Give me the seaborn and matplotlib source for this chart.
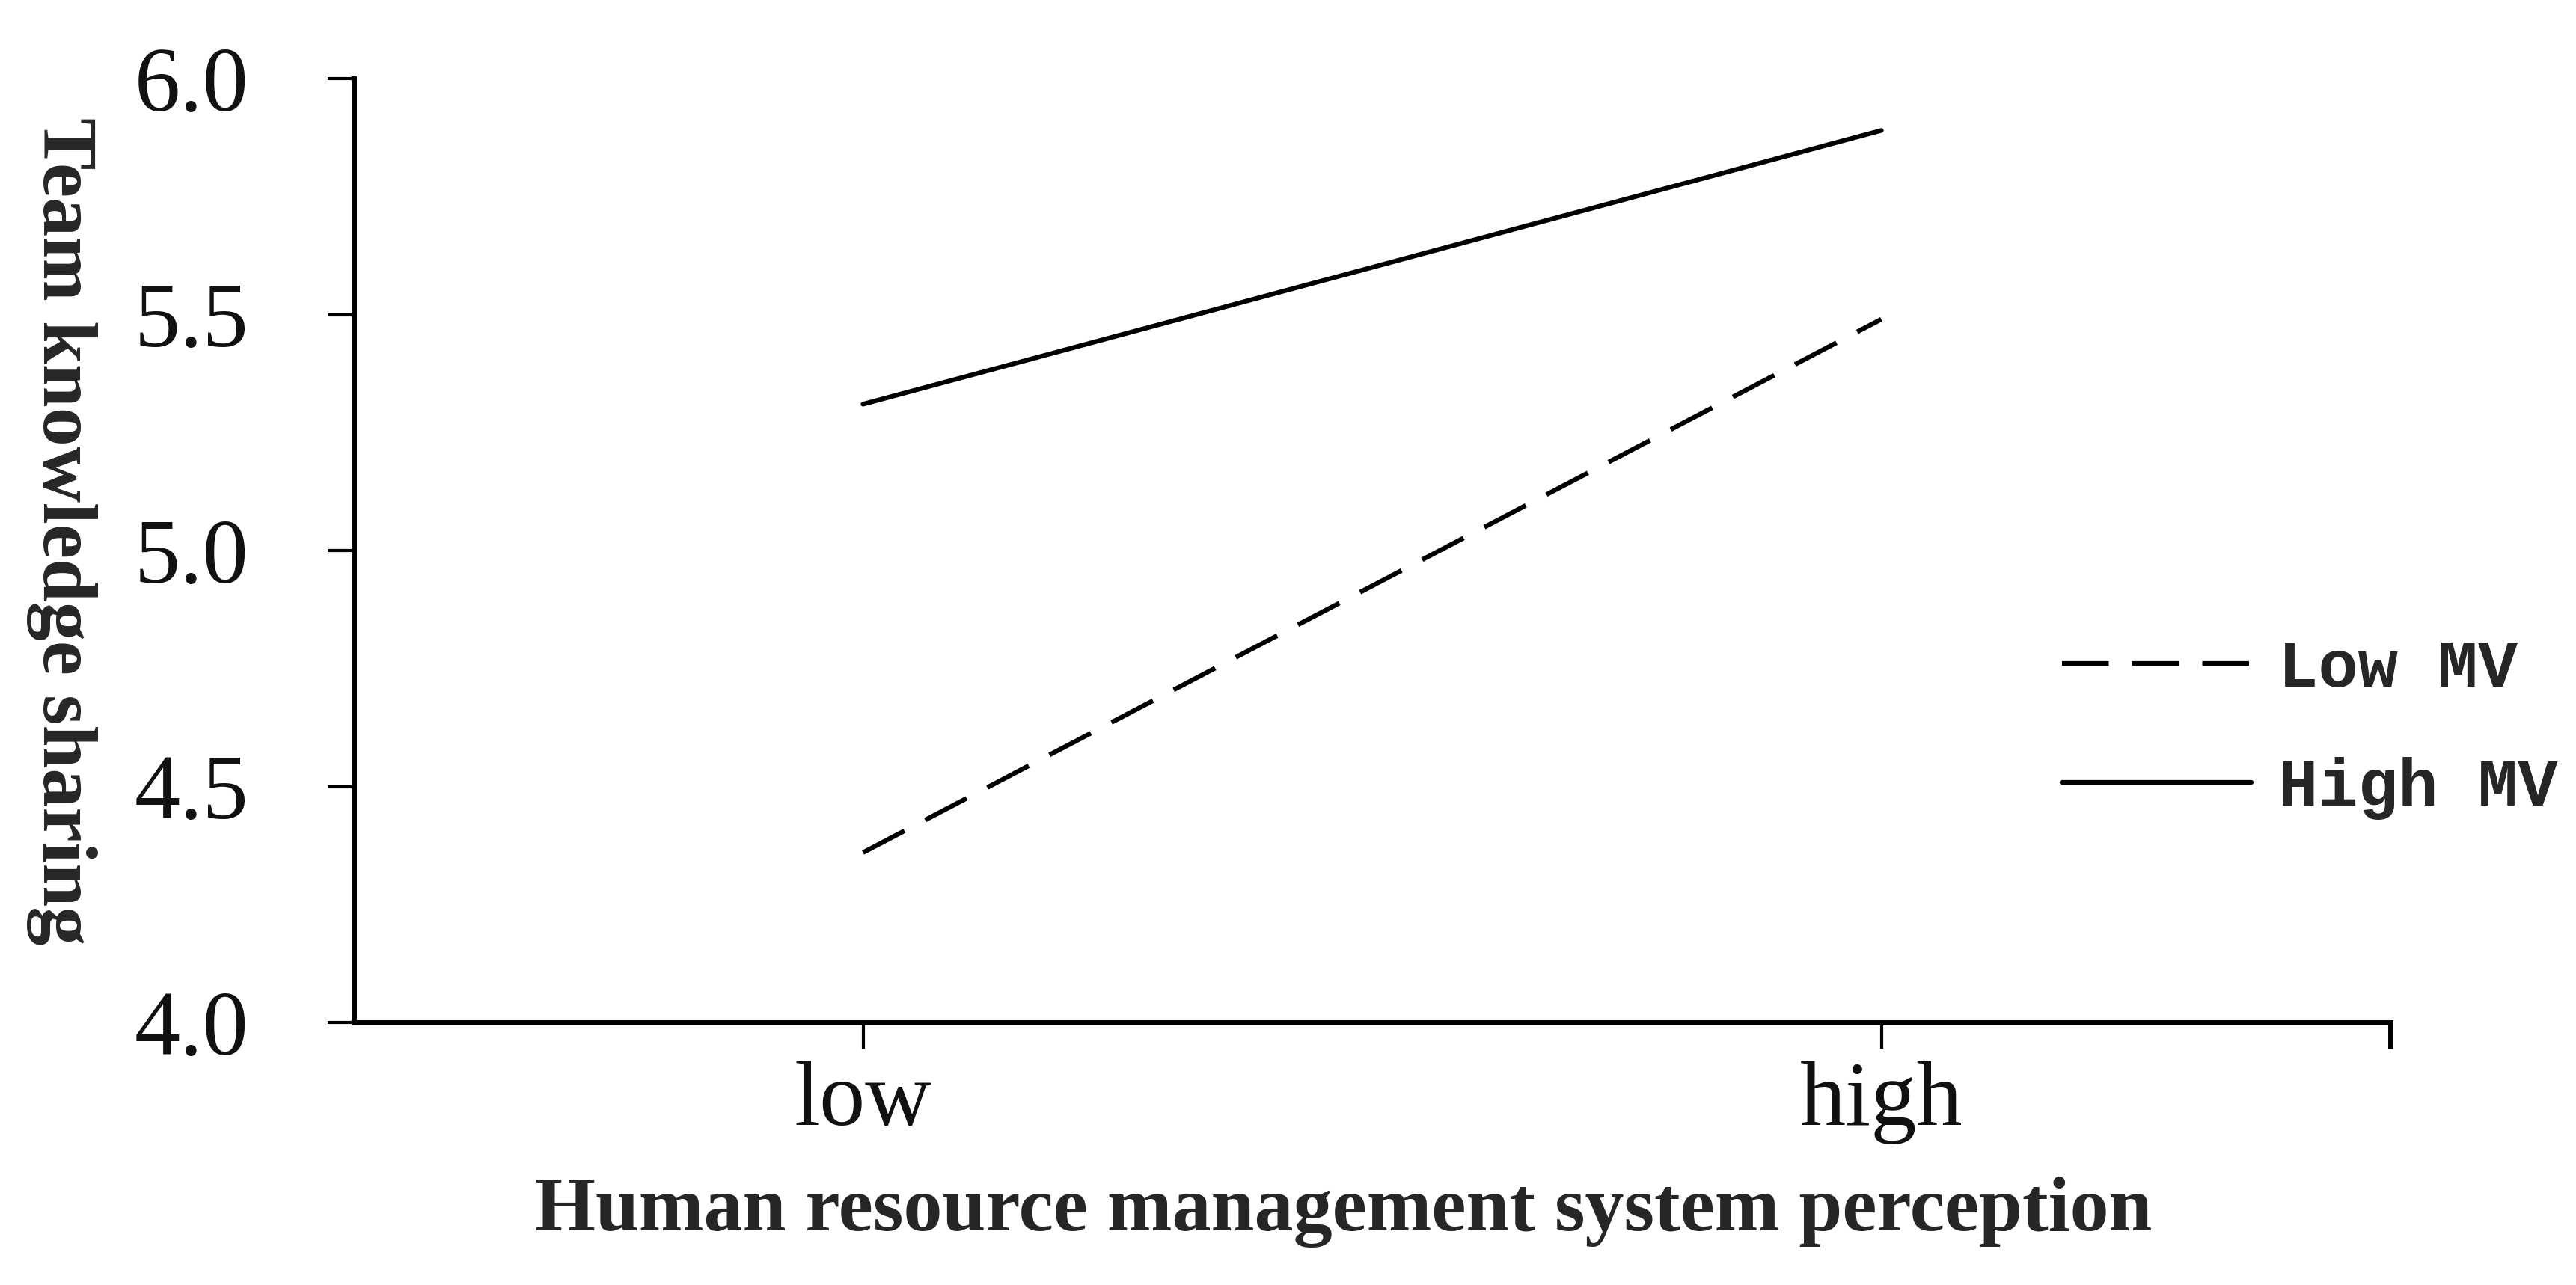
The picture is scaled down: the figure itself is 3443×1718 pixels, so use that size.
import numpy as np
import pandas as pd
import matplotlib
matplotlib.use("Agg")
import matplotlib.pyplot as plt
from matplotlib.ticker import FormatStrFormatter
from matplotlib.font_manager import FontProperties
import seaborn as sns

# ---- data ----
hrm_levels = ["low", "high"]
series_labels = ["Low MV", "High MV"]
low_mv = [4.36, 5.49]
high_mv = [5.31, 5.89]
y_ticks = [4.0, 4.5, 5.0, 5.5, 6.0]
x_label = "Human resource management system perception"
y_label = "Team knowledge sharing"

positions = np.arange(len(hrm_levels))
df = pd.concat([
    pd.DataFrame({"pos": positions, "score": low_mv, "group": series_labels[0]}),
    pd.DataFrame({"pos": positions, "score": high_mv, "group": series_labels[1]}),
], ignore_index=True)

sns.set_style("ticks")
plt.rcParams["font.family"] = ["Liberation Serif", "DejaVu Serif"]

W, H = 3443, 1718
fig = plt.figure(figsize=(W / 100, H / 100), dpi=100)
ax_left, ax_right, ax_top, ax_bot = 473, 3195, 105, 1367
ax = fig.add_axes([ax_left / W, 1 - ax_bot / H, (ax_right - ax_left) / W, (ax_bot - ax_top) / H])

sns.lineplot(data=df, x="pos", y="score", hue="group", style="group",
             hue_order=series_labels, style_order=series_labels,
             palette={series_labels[0]: "black", series_labels[1]: "black"},
             dashes={series_labels[0]: (10, 5), series_labels[1]: ""},
             linewidth=4.5, ax=ax, legend=True)

ax.set_xlim(-0.5, 1.5)
ax.set_ylim(4.0, 6.0)
ax.set_xticks(positions)
ax.set_xticklabels(hrm_levels)
ax.set_xticks([1.5], minor=True)
ax.set_yticks(y_ticks)
ax.yaxis.set_major_formatter(FormatStrFormatter("%.1f"))

for s in ["top", "right"]:
    ax.spines[s].set_visible(False)
for s in ["left", "bottom"]:
    ax.spines[s].set_linewidth(5)
    ax.spines[s].set_color("black")

ax.tick_params(axis="y", which="major", direction="out", length=25, width=3,
               color="black", labelsize=88, pad=76, labelcolor="#111111")
ax.tick_params(axis="x", which="major", direction="out", length=25, width=3,
               color="black", labelsize=88, pad=12, labelcolor="#111111")
ax.tick_params(axis="x", which="minor", direction="out", length=25, width=5, color="black")

ax.set_xlabel(x_label, fontsize=75, fontweight="bold", family="Liberation Serif")
ax.xaxis.label.set_va("baseline")
ax.xaxis.set_label_coords((1796 - ax_left) / (ax_right - ax_left), (ax_bot - 1645) / (ax_bot - ax_top))

ax.set_ylabel(y_label, fontsize=75, fontweight="bold", family="Liberation Serif", rotation=-90)
ax.yaxis.label.set_va("baseline")
ax.yaxis.label.set_ha("center")
ax.yaxis.set_label_coords((58 - ax_left) / (ax_right - ax_left), (ax_bot - 710) / (ax_bot - ax_top))

handles, labels = ax.get_legend_handles_labels()
hmap = dict(zip(labels, handles))
leg_handles = [hmap[l] for l in series_labels]
ax.legend(leg_handles, series_labels, loc="center left",
          bbox_to_anchor=(2756 / W, 1 - 975 / H), bbox_transform=fig.transFigure,
          frameon=False, prop=FontProperties(family="Liberation Mono", size=64, weight="bold"),
          handlelength=2.85, handletextpad=0.4, labelspacing=0.85,
          borderpad=0, borderaxespad=0)

fig.savefig("out.png", dpi=100, facecolor="white")
